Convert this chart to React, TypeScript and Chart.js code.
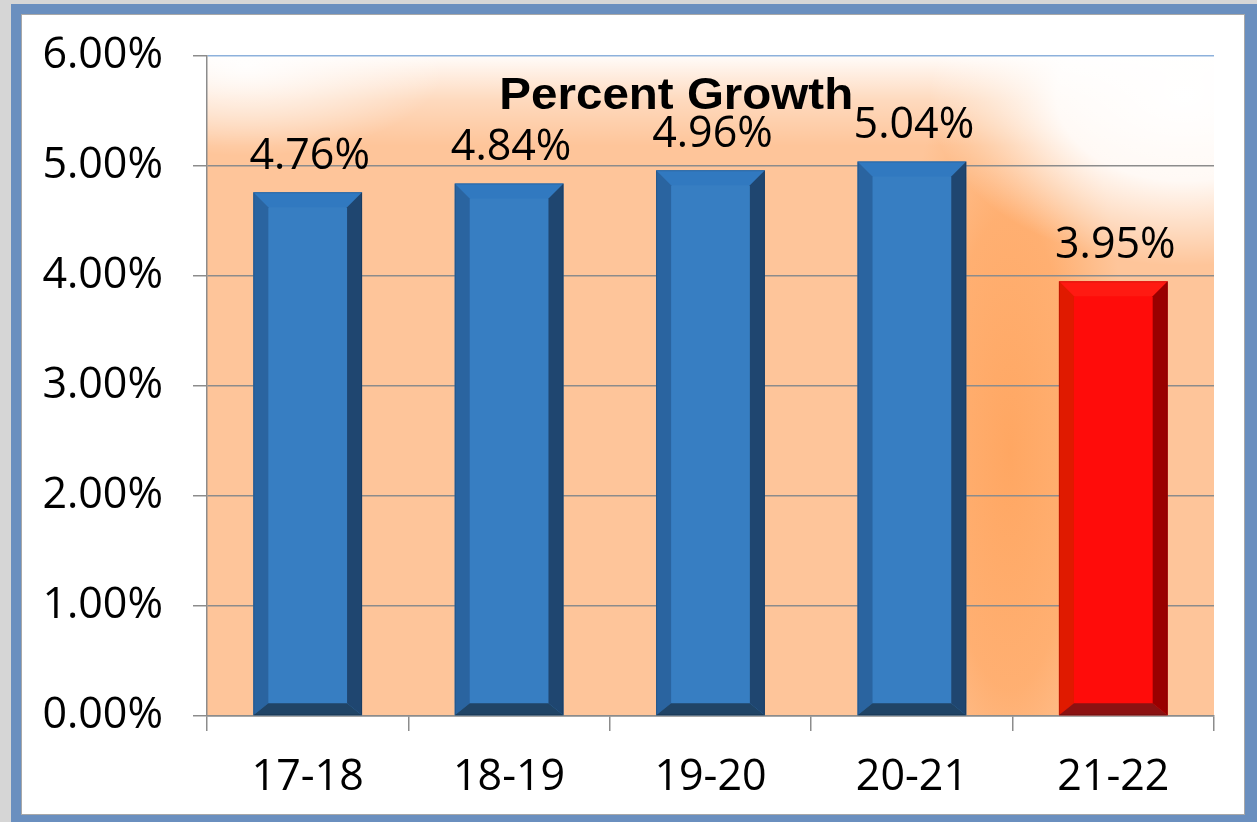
import React, { useEffect, useRef } from "react";
import { Chart, registerables } from "chart.js";

Chart.register(...registerables);

const categories = ["17-18", "18-19", "19-20", "20-21", "21-22"];
const growthValues = [4.76, 4.84, 4.96, 5.04, 3.95];
const barFaceColors = ["#377ec2", "#377ec2", "#377ec2", "#377ec2", "#ff0c0a"];
const yTickMin = 0;
const yTickMax = 6;
const yTickStep = 1;
const chartTitle = "Percent Growth";

const bevelPalettes: Record<string, { top: string; left: string; right: string; bottom: string }> = {
  "#377ec2": { top: "#3179c0", left: "#2a64a0", right: "#1f4670", bottom: "#204466" },
  "#ff0c0a": { top: "#ff1a12", left: "#e01a00", right: "#990000", bottom: "#8c1212" },
};

const backgroundPlugin = {
  id: "plotBackground",
  beforeDraw(chart: any) {
    const { ctx, chartArea } = chart;
    if (!chartArea) return;
    const { left, top, right, bottom } = chartArea;
    const w = right - left;
    const h = bottom - top;
    ctx.save();
    ctx.beginPath();
    ctx.rect(left, top, w, h);
    ctx.clip();
    ctx.fillStyle = "#fec59a";
    ctx.fillRect(left, top, w, h);

    const gx = left + w * 0.797;
    const gy = top + h * 0.6;
    ctx.save();
    ctx.translate(gx, gy);
    ctx.scale(1, 3.6);
    let rg = ctx.createRadialGradient(0, 0, 0, 0, 0, 120);
    rg.addColorStop(0, "rgba(255,165,95,0.95)");
    rg.addColorStop(0.55, "rgba(255,168,100,0.75)");
    rg.addColorStop(1, "rgba(255,175,110,0)");
    ctx.fillStyle = rg;
    ctx.fillRect(-200, -200, 400, 400);
    ctx.restore();

    const lg = ctx.createLinearGradient(0, top, 0, top + 90);
    lg.addColorStop(0, "rgba(255,255,255,0.95)");
    lg.addColorStop(0.5, "rgba(255,255,255,0.35)");
    lg.addColorStop(1, "rgba(255,255,255,0)");
    ctx.fillStyle = lg;
    ctx.fillRect(left, top, w, 90);

    ctx.save();
    ctx.translate(left + 40, top + 10);
    ctx.scale(2.2, 1);
    rg = ctx.createRadialGradient(0, 0, 0, 0, 0, 90);
    rg.addColorStop(0, "rgba(255,255,255,0.9)");
    rg.addColorStop(1, "rgba(255,255,255,0)");
    ctx.fillStyle = rg;
    ctx.fillRect(-100, -100, 200, 200);
    ctx.restore();

    ctx.save();
    ctx.translate(right - 30, top + 40);
    ctx.scale(1.5, 1);
    rg = ctx.createRadialGradient(0, 0, 0, 0, 0, 170);
    rg.addColorStop(0, "rgba(255,255,255,1)");
    rg.addColorStop(0.5, "rgba(255,255,255,0.9)");
    rg.addColorStop(1, "rgba(255,255,255,0)");
    ctx.fillStyle = rg;
    ctx.fillRect(-180, -180, 360, 360);
    ctx.restore();

    ctx.restore();
  },
};

const bevelPlugin = {
  id: "barBevel",
  afterDatasetsDraw(chart: any) {
    const { ctx } = chart;
    const meta = chart.getDatasetMeta(0);
    meta.data.forEach((bar: any, i: number) => {
      const p = bevelPalettes[barFaceColors[i]];
      const half = bar.width / 2;
      const l = bar.x - half;
      const r = bar.x + half;
      const t = bar.y;
      const b = bar.base;
      const bv = 15;
      const bb = 12;
      const poly = (pts: number[][], color: string) => {
        ctx.beginPath();
        ctx.moveTo(pts[0][0], pts[0][1]);
        for (let k = 1; k < pts.length; k++) ctx.lineTo(pts[k][0], pts[k][1]);
        ctx.closePath();
        ctx.fillStyle = color;
        ctx.fill();
      };
      ctx.save();
      poly([[l, t], [r, t], [r - bv, t + bv], [l + bv, t + bv]], p.top);
      poly([[l, t], [l + bv, t + bv], [l + bv, b - bb], [l, b]], p.left);
      poly([[r, t], [r, b], [r - bv, b - bb], [r - bv, t + bv]], p.right);
      poly([[l, b], [l + bv, b - bb], [r - bv, b - bb], [r, b]], p.bottom);
      ctx.strokeStyle = "rgba(0,0,0,0.15)";
      ctx.lineWidth = 1;
      ctx.strokeRect(l + 0.5, t + 0.5, r - l - 1, b - t - 1);
      ctx.restore();
    });
  },
};

const labelPlugin = {
  id: "valueLabels",
  afterDatasetsDraw(chart: any) {
    const { ctx, chartArea } = chart;
    const meta = chart.getDatasetMeta(0);
    ctx.save();
    ctx.fillStyle = "#000";
    ctx.textAlign = "center";
    ctx.textBaseline = "alphabetic";
    ctx.font = "43px 'Open Sans'";
    meta.data.forEach((bar: any, i: number) => {
      ctx.fillText(growthValues[i].toFixed(2) + "%", bar.x + 2, bar.y - 23);
    });
    const tx = chartArea.left + (chartArea.right - chartArea.left) * 0.466;
    const ty = chartArea.top + 53;
    ctx.translate(tx, ty);
    ctx.scale(1.08, 1);
    ctx.font = "bold 44px 'Liberation Sans'";
    ctx.fillText(chartTitle, 0, 0);
    ctx.restore();
  },
};

export default function App() {
  const canvasRef = useRef<HTMLCanvasElement>(null);

  useEffect(() => {
    if (!canvasRef.current) return;
    const chart = new Chart(canvasRef.current, {
      type: "bar",
      data: {
        labels: categories,
        datasets: [
          {
            data: growthValues,
            backgroundColor: barFaceColors,
            borderWidth: 0,
            categoryPercentage: 1,
            barPercentage: 0.54,
          },
        ],
      },
      options: {
        responsive: false,
        animation: false,
        devicePixelRatio: 1,
        layout: { padding: { top: 55, right: 43, bottom: 0, left: 0 } },
        plugins: {
          legend: { display: false },
          tooltip: { enabled: false },
          title: { display: false },
        },
        scales: {
          x: {
            grid: {
              drawOnChartArea: false,
              drawTicks: true,
              tickLength: 15,
              color: "#8c8c8c",
              lineWidth: 1.5,
              offset: true,
            },
            border: { display: true, color: "#8c8c8c", width: 1.5 },
            ticks: {
              color: "#000",
              font: { family: "'Open Sans'", size: 43 },
              padding: 21,
              maxRotation: 0,
            },
            afterFit(scale: any) {
              scale.height = 106;
            },
          },
          y: {
            min: yTickMin,
            max: yTickMax,
            grid: {
              color: (c: any) => (c.tick && c.tick.value === yTickMax ? "#8db1dc" : "#8c8c8c"),
              tickColor: "#8c8c8c",
              lineWidth: 1.5,
              tickLength: 14,
            },
            border: { display: true, color: "#8c8c8c", width: 1.5 },
            ticks: {
              stepSize: yTickStep,
              color: "#000",
              font: { family: "'Open Sans'", size: 43 },
              padding: 30,
              callback: (v: any) => Number(v).toFixed(2) + "%",
            },
            afterFit(scale: any) {
              scale.width = 207;
            },
          },
        },
      },
      plugins: [backgroundPlugin, bevelPlugin, labelPlugin],
    });
    return () => chart.destroy();
  }, []);

  return (
    <div style={{ position: "fixed", left: 0, top: 0, width: 1257, height: 822, background: "#d6d6d6", overflow: "hidden" }}>
      <div style={{ position: "absolute", left: 11, top: 4, width: 1246, height: 818, background: "#6a8fbf" }} />
      <div
        style={{
          position: "absolute",
          left: 21,
          top: 14,
          width: 1224,
          height: 801,
          background: "#ffffff",
          border: "1px solid #a8a8a8",
          boxSizing: "border-box",
        }}
      />
      <canvas
        ref={canvasRef}
        width={1257}
        height={822}
        style={{ position: "absolute", left: 0, top: 0, width: 1257, height: 822 }}
      />
    </div>
  );
}
